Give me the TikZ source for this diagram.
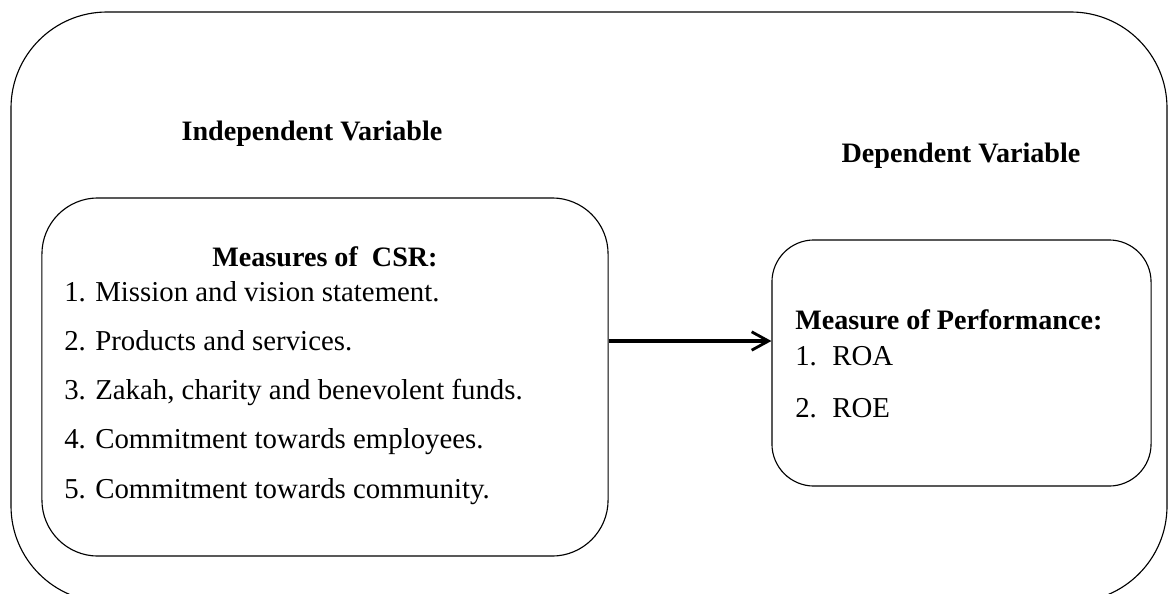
\documentclass[tikz,border=0pt]{standalone}
\usepackage{fontspec}
\setmainfont{Liberation Serif}
\usetikzlibrary{arrows.meta}
\tikzset{
    varbox/.style={draw=black, line width=0.8pt, rectangle, inner sep=0pt},
    heading/.style={font=\fontsize{20}{24}\selectfont\bfseries, inner sep=0pt},
    item/.style={font=\fontsize{20.5}{24}\selectfont, inner sep=0pt, anchor=base west},
    flow/.style={-{Straight Barb[length=4.2mm, width=4.6mm, line width=2pt]}, line width=2.2pt}
}
\begin{document}
\begin{tikzpicture}[x=0.025cm,y=-0.025cm]
    \useasboundingbox (0,0) rectangle (1168,593);
    \clip (0,0) rectangle (1168,593);
    \draw[line width=0.8pt, rounded corners=2.4cm] (11,12) rectangle (1167,602);

    \node[heading, anchor=base] (ivtitle) at (312,140) {Independent Variable};
    \node[heading, anchor=base] (dvtitle) at (961,162) {Dependent Variable};

    \node[varbox, rounded corners=1.4cm, minimum width=14.15cm, minimum height=8.95cm] (ivbox) at (325,377) {};
    \node[varbox, rounded corners=1.05cm, minimum width=9.475cm, minimum height=6.15cm] (dvbox) at (961.5,363) {};

    \node[heading, anchor=base] (csrtitle) at (325,266) {Measures of~~CSR:};
    \node[item] (n1) at (64,301) {1.};
    \node[item] (n2) at (64,350) {2.};
    \node[item] (n3) at (64,399) {3.};
    \node[item] (n4) at (64,448) {4.};
    \node[item] (n5) at (64,498) {5.};
    \node[item] (t1) at (95,301) {Mission and vision statement.};
    \node[item] (t2) at (95,350) {Products and services.};
    \node[item] (t3) at (95,399) {Zakah, charity and benevolent funds.};
    \node[item] (t4) at (95,448) {Commitment towards employees.};
    \node[item] (t5) at (95,498) {Commitment towards community.};

    \node[heading, anchor=base west] (perftitle) at (795,329) {Measure of Performance:};
    \node[item] (m1) at (795,365) {1.};
    \node[item] (m2) at (795,417) {2.};
    \node[item] (roa) at (832,365) {ROA};
    \node[item] (roe) at (832,417) {ROE};

    \coordinate (arrowy) at (0,341);
    \draw[flow] (ivbox.east |- arrowy) -- (dvbox.west |- arrowy);
\end{tikzpicture}
\end{document}
